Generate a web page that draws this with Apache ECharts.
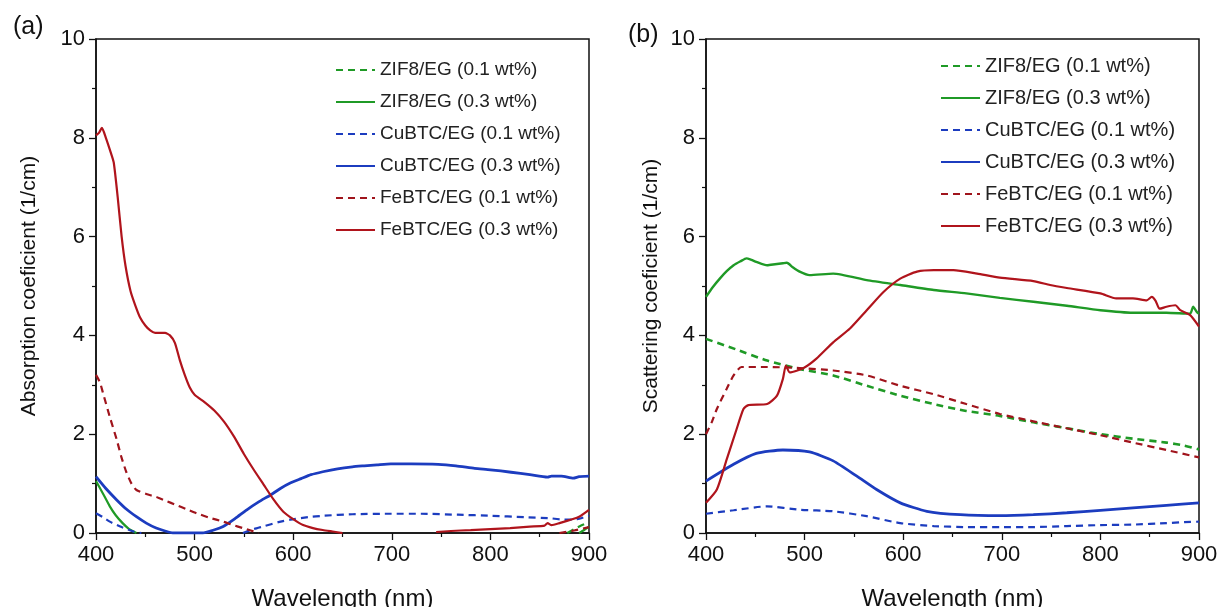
<!DOCTYPE html>
<html>
<head>
<meta charset="utf-8">
<script src="https://cdn.jsdelivr.net/npm/echarts@6/dist/echarts.min.js"></script>
<style>
html, body { margin: 0; padding: 0; background: #fff; }
#chart { width: 1217px; height: 607px; }
</style>
</head>
<body>
<div id="chart"></div>
<script>
// series names
var names = ['ZIF8/EG (0.1 wt%)', 'ZIF8/EG (0.3 wt%)', 'CuBTC/EG (0.1 wt%)', 'CuBTC/EG (0.3 wt%)', 'FeBTC/EG (0.1 wt%)', 'FeBTC/EG (0.3 wt%)'];
var xTicks = [400, 500, 600, 700, 800, 900];
var yTicks = [0, 2, 4, 6, 8, 10];

// (a) absorption coefficient, [wavelength, value]
var absZif01 = [[875, null], [878, 0.0], [885, 0.08], [892, 0.15], [900, 0.22]];
var absZif03 = [[400, 1.05], [407, 0.8], [414, 0.54], [420, 0.36], [427, 0.2], [433, 0.09], [438, 0.03], [441, 0.0], [442, null],
	[888, null], [890, 0.0], [895, 0.06], [900, 0.13]];
var absCu01 = [[400, 0.4], [407, 0.32], [414, 0.23], [426, 0.12], [438, 0.03], [446, 0.0], [447, null],
	[548, null], [549, 0.0], [560, 0.08], [570, 0.135], [585, 0.22], [597, 0.27], [615, 0.32], [631, 0.35], [660, 0.38], [699, 0.39],
	[730, 0.39], [767, 0.37], [800, 0.35], [835, 0.32], [860, 0.3], [875, 0.27], [888, 0.28], [900, 0.35]];
var absCu03 = [[400, 1.14], [410, 0.9], [421, 0.67], [431, 0.48], [441, 0.33], [451, 0.2], [461, 0.1], [470, 0.04], [478, 0.0],
	[490, 0.0], [500, 0.0], [508, 0.0], [518, 0.05], [529, 0.13], [541, 0.29], [553, 0.47], [565, 0.63], [577, 0.77], [587, 0.9],
	[597, 1.01], [608, 1.1], [618, 1.18], [630, 1.24], [645, 1.3], [660, 1.34], [672, 1.36], [685, 1.38], [699, 1.4], [720, 1.4],
	[747, 1.39], [765, 1.36], [784, 1.31], [800, 1.28], [821, 1.23], [840, 1.18], [858, 1.13], [862, 1.15], [872, 1.15],
	[884, 1.11], [890, 1.14], [900, 1.15]];
var absFe01 = [[400, 3.2], [404, 3.05], [407, 2.84], [414, 2.35], [421, 1.89], [426, 1.52], [431, 1.22], [436, 1.0], [441, 0.87],
	[451, 0.79], [461, 0.73], [471, 0.65], [481, 0.57], [492, 0.48], [502, 0.4], [515, 0.31], [529, 0.23], [539, 0.16], [549, 0.1],
	[557, 0.05], [565, 0.0], [566, null],
	[868, null], [870, 0.0], [885, 0.05], [900, 0.12]];
var absFe03 = [[400, 8.05], [403, 8.1], [406, 8.2], [410, 8.0], [415, 7.7], [418, 7.5], [422, 6.8], [426, 6.0], [430, 5.4],
	[435, 4.9], [440, 4.6], [445, 4.35], [450, 4.2], [455, 4.1], [460, 4.05], [470, 4.05], [475, 4.0], [480, 3.85], [485, 3.5],
	[490, 3.2], [495, 2.95], [500, 2.8], [510, 2.65], [520, 2.48], [530, 2.25], [540, 1.95], [550, 1.6], [560, 1.28], [570, 0.98],
	[580, 0.68], [590, 0.43], [600, 0.28], [610, 0.16], [620, 0.1], [630, 0.06], [640, 0.03], [650, 0.0], [651, null],
	[744, null], [745, 0.02], [760, 0.04], [780, 0.06], [800, 0.08], [820, 0.1], [840, 0.13], [855, 0.15], [858, 0.2], [862, 0.16],
	[870, 0.2], [880, 0.26], [890, 0.33], [900, 0.47]];

// (b) scattering coefficient, [wavelength, value]
var scaZif01 = [[400, 3.93], [430, 3.72], [462, 3.49], [495, 3.32], [529, 3.19], [563, 2.98], [597, 2.78], [631, 2.61], [664, 2.47],
	[698, 2.37], [732, 2.24], [766, 2.12], [800, 2.0], [833, 1.91], [867, 1.83], [885, 1.77], [900, 1.69]];
var scaZif03 = [[400, 4.78], [407, 4.98], [414, 5.15], [421, 5.3], [428, 5.42], [435, 5.5], [441, 5.56], [446, 5.53], [451, 5.49],
	[462, 5.42], [470, 5.44], [478, 5.46], [482, 5.47], [488, 5.38], [495, 5.29], [505, 5.22], [529, 5.25], [563, 5.12],
	[597, 5.02], [631, 4.92], [664, 4.85], [698, 4.76], [732, 4.68], [766, 4.6], [800, 4.51], [833, 4.46], [867, 4.46],
	[891, 4.44], [894, 4.58], [898, 4.47], [900, 4.44]];
var scaCu01 = [[400, 0.39], [428, 0.46], [462, 0.54], [495, 0.47], [529, 0.44], [563, 0.34], [597, 0.2], [631, 0.14], [664, 0.12],
	[698, 0.12], [732, 0.12], [766, 0.14], [800, 0.16], [833, 0.17], [867, 0.2], [885, 0.22], [900, 0.23]];
var scaCu03 = [[400, 1.05], [428, 1.39], [451, 1.61], [478, 1.68], [505, 1.64], [529, 1.46], [553, 1.15], [573, 0.88], [597, 0.61],
	[624, 0.44], [658, 0.37], [698, 0.35], [732, 0.37], [766, 0.41], [800, 0.46], [833, 0.51], [867, 0.56], [900, 0.61]];
var scaFe01 = [[400, 2.0], [406, 2.25], [411, 2.51], [421, 2.92], [428, 3.19], [436, 3.36], [462, 3.36], [495, 3.34], [529, 3.29],
	[563, 3.19], [597, 2.98], [631, 2.81], [664, 2.61], [698, 2.41], [732, 2.26], [766, 2.12], [800, 1.98], [833, 1.83],
	[867, 1.68], [900, 1.53]];
var scaFe03 = [[400, 0.61], [411, 0.88], [421, 1.49], [431, 2.1], [438, 2.51], [443, 2.59], [462, 2.61], [472, 2.78], [478, 3.12],
	[481, 3.39], [485, 3.25], [499, 3.34], [512, 3.53], [529, 3.86], [546, 4.14], [563, 4.51], [580, 4.88], [597, 5.15],
	[614, 5.29], [631, 5.32], [651, 5.32], [675, 5.25], [698, 5.17], [732, 5.1], [749, 5.02], [766, 4.96], [800, 4.85],
	[816, 4.75], [833, 4.75], [847, 4.71], [852, 4.78], [856, 4.7], [860, 4.54], [867, 4.58], [876, 4.61], [881, 4.51],
	[891, 4.41], [900, 4.18]];

var green = '#1f9a26';
var blue = '#1c3cbf';
var red = '#b0141c';
var dred = '#a0141c';
var font = 'Liberation Sans, Arial, sans-serif';

function mkLine(name, data, color, dashed, width, idx) {
	return {
		name: name,
		type: 'line',
		xAxisIndex: idx,
		yAxisIndex: idx,
		data: data,
		symbol: 'none',
		showSymbol: false,
		smooth: 0.2,
		connectNulls: false,
		clip: true,
		lineStyle: { color: color, width: width, type: dashed ? [7, 5] : 'solid' },
		itemStyle: { color: color },
		z: 3
	};
}

function mkX(idx) {
	return {
		type: 'value', gridIndex: idx, min: 400, max: 900, interval: 100,
		name: 'Wavelength (nm)', nameLocation: 'middle', nameGap: 54,
		nameTextStyle: { fontSize: 24, color: '#111', fontFamily: font },
		axisLine: { show: true, onZero: false, lineStyle: { color: '#111', width: 1.5 } },
		axisTick: { show: true, length: 7, lineStyle: { color: '#111', width: 1.3 } },
		minorTick: { show: true, splitNumber: 2, length: 4, lineStyle: { color: '#111', width: 1.2 } },
		axisLabel: { fontSize: 22, color: '#111', fontFamily: font, margin: 11 },
		splitLine: { show: false }
	};
}

function mkY(idx, name, gap) {
	return {
		type: 'value', gridIndex: idx, min: 0, max: 10, interval: 2,
		name: name, nameLocation: 'middle', nameGap: gap, nameRotate: 90,
		nameTextStyle: { fontSize: 21, color: '#111', fontFamily: font },
		axisLine: { show: true, onZero: false, lineStyle: { color: '#111', width: 1.5 } },
		axisTick: { show: true, length: 7, lineStyle: { color: '#111', width: 1.3 } },
		minorTick: { show: true, splitNumber: 2, length: 4, lineStyle: { color: '#111', width: 1.2 } },
		axisLabel: { fontSize: 22, color: '#111', fontFamily: font, margin: 11 },
		splitLine: { show: false }
	};
}

function mkLegend(left, top, size) {
	return {
		orient: 'vertical', left: left, top: top,
		data: names,
		itemWidth: 39, itemHeight: 12, itemGap: 12,
		itemStyle: { opacity: 0 },
		textStyle: { fontSize: size, color: '#222', fontFamily: font, lineHeight: 20 },
		selectedMode: false
	};
}

var chart = echarts.init(document.getElementById('chart'));
var option = {
	animation: false,
	backgroundColor: '#fff',
	title: [
		{ text: '(a)', left: 8, top: 10, textStyle: { fontSize: 25, fontWeight: 'normal', color: '#111', fontFamily: font } },
		{ text: '(b)', left: 623, top: 18, textStyle: { fontSize: 25, fontWeight: 'normal', color: '#111', fontFamily: font } }
	],
	grid: [
		{ left: 96, right: 628, top: 39, bottom: 74, outerBoundsMode: 'none', show: true, borderColor: '#111', borderWidth: 1.5 },
		{ left: 706, right: 18, top: 39, bottom: 74, outerBoundsMode: 'none', show: true, borderColor: '#111', borderWidth: 1.5 }
	],
	legend: [mkLegend(330, 55, 19), mkLegend(935, 51, 20)],
	xAxis: [mkX(0), mkX(1)],
	yAxis: [mkY(0, 'Absorption coeficient (1/cm)', 56), mkY(1, 'Scattering coeficient (1/cm)', 44)],
	series: [
		mkLine(names[0], absZif01, green, true, 2.2, 0),
		mkLine(names[1], absZif03, green, false, 2.2, 0),
		mkLine(names[2], absCu01, blue, true, 2.2, 0),
		mkLine(names[3], absCu03, blue, false, 2.8, 0),
		mkLine(names[4], absFe01, dred, true, 2.2, 0),
		mkLine(names[5], absFe03, red, false, 2.2, 0),
		mkLine(names[0], scaZif01, green, true, 2.6, 1),
		mkLine(names[1], scaZif03, green, false, 2.4, 1),
		mkLine(names[2], scaCu01, blue, true, 2.2, 1),
		mkLine(names[3], scaCu03, blue, false, 2.8, 1),
		mkLine(names[4], scaFe01, dred, true, 2.2, 1),
		mkLine(names[5], scaFe03, red, false, 2.2, 1)
	]
};
chart.setOption(option);
</script>
</body>
</html>
